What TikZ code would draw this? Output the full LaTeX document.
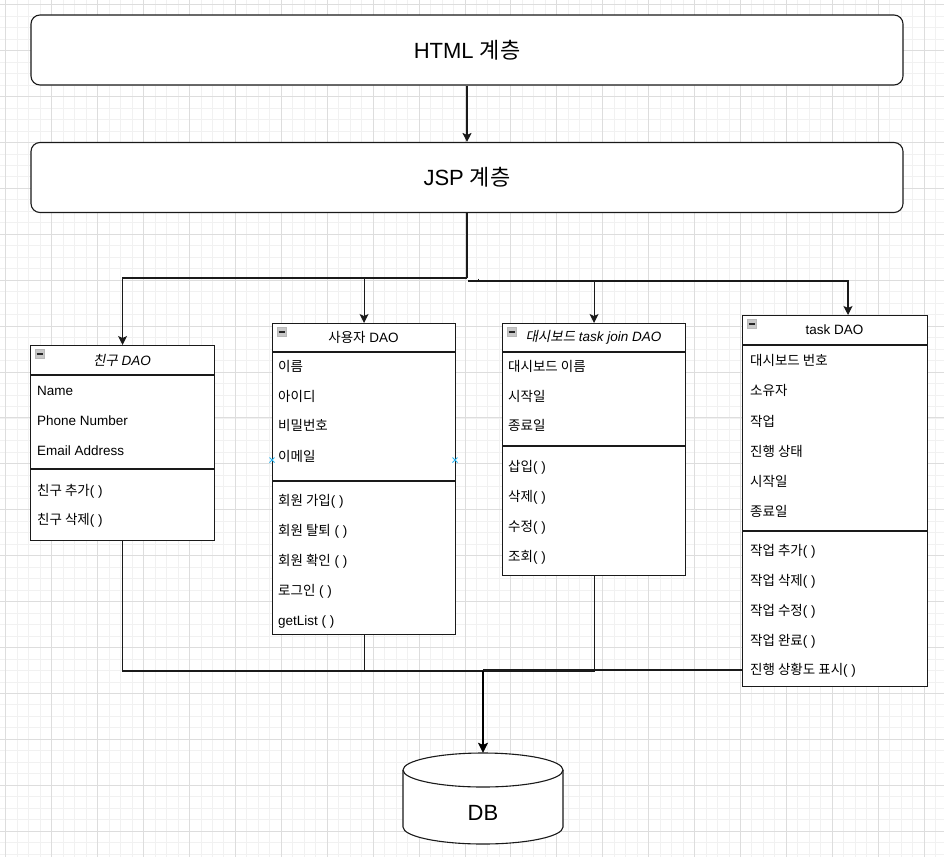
\documentclass[tikz,border=0pt]{standalone}
\usepackage{fontspec}
\setmainfont{Liberation Sans}
\newfontfamily\kr{Noto Sans CJK KR}
\newfontfamily\kri{Noto Sans CJK KR}[FakeSlant=0.2]
\newcommand\K[1]{{\kr #1}}
\newcommand\KI[1]{{\kri #1}}
\usetikzlibrary{arrows.meta}
\definecolor{gridminor}{HTML}{F1F1F1}
\definecolor{gridmajor}{HTML}{DDDDDD}
\definecolor{linecol}{HTML}{1A1A1A}
\definecolor{ptblue}{HTML}{29B6F2}
\definecolor{iconfill}{HTML}{C8C8C8}
\tikzset{
  classbox/.style={draw=linecol, line width=1.1pt, fill=white, anchor=north west, inner sep=0pt},
  layerbox/.style={draw=linecol, line width=1.1pt, fill=white, rounded corners=9pt,
    minimum width=872pt, minimum height=70pt, inner sep=0pt, font=\fontsize{22}{26}\selectfont},
  rowtext/.style={anchor=base west, inner sep=0pt, font=\fontsize{13.5}{16}\selectfont},
  titletext/.style={inner sep=0pt, font=\fontsize{13.5}{16}\selectfont},
  conn/.style={draw=linecol, line width=1.1pt},
  arr/.style={conn, -{Stealth[length=9pt,width=9pt,inset=2pt]}},
  bigarr/.style={draw=black, line width=1.8pt, -{Stealth[length=10pt,width=10pt,inset=2pt]}},
  sepline/.style={draw=linecol, line width=1.1pt},
  iconbox/.style={fill=iconfill, draw=gray!55, line width=0.5pt},
  iconbar/.style={draw=black!85, line width=1.1pt},
  cross/.style={draw=ptblue, line width=1pt}
}
\begin{document}
\begin{tikzpicture}[x=1pt,y=-1pt]
\useasboundingbox (0,0) rectangle (944,857);
\fill[white] (0,0) rectangle (944,857);
% grid
\foreach \i in {0,...,82} {\draw[gridminor, line width=0.8pt] ({5.8+11.478*\i},0) -- ({5.8+11.478*\i},857);}
\foreach \i in {0,...,74} {\draw[gridminor, line width=0.8pt] (0,{4.7+11.478*\i}) -- (944,{4.7+11.478*\i});}
\foreach \i in {0,...,20} {\draw[gridmajor, line width=0.8pt] ({5.8+45.91*\i},0) -- ({5.8+45.91*\i},857);}
\foreach \i in {0,...,18} {\draw[gridmajor, line width=0.8pt] (0,{4.7+45.91*\i}) -- (944,{4.7+45.91*\i});}

% layers
\node[layerbox] (html) at (467,50) {HTML \K{계층}};
\node[layerbox] (jsp) at (467,177.5) {JSP \K{계층}};

% class boxes
\node[classbox, minimum width=184pt, minimum height=195pt] (friend) at (30,345) {};
\node[classbox, minimum width=183pt, minimum height=311pt] (user) at (272,323) {};
\node[classbox, minimum width=183pt, minimum height=252pt] (dash) at (502,323) {};
\node[classbox, minimum width=185pt, minimum height=371pt] (task) at (742,315) {};

% header + separator lines
\draw[sepline] (30,375) -- (214,375);
\draw[sepline] (30,469) -- (214,469);
\draw[sepline] (272,352) -- (455,352);
\draw[sepline] (272,481) -- (455,481);
\draw[sepline] (502,352) -- (685,352);
\draw[sepline] (502,446) -- (685,446);
\draw[sepline] (742,345) -- (927,345);
\draw[sepline] (742,531) -- (927,531);

% collapse icons
\foreach \x/\y in {30/345, 272/323, 502/323, 742/315} {
  \draw[iconbox] (\x+5,\y+4.5) rectangle +(9,9);
  \draw[iconbar] (\x+6.5,\y+9) -- +(6,0);
}

% titles
\node[titletext] (ftitle) at (122,360) {\KI{친구} {\itshape DAO}};
\node[titletext] (utitle) at (363.5,337.5) {\K{사용자} DAO};
\node[titletext] (dtitle) at (593.5,337.5) {\KI{대시보드} {\itshape task join DAO}};
\node[titletext] (ttitle) at (834.5,330) {task DAO};

% rows
\foreach \y/\t [count=\i] in {390/Name, 420/Phone Number, 450/Email Address,
  490/{\K{친구 추가}( )}, 519/{\K{친구 삭제}( )}}
  {\node[rowtext] (f\i) at (37,\y+5) {\t};}
\foreach \y/\t [count=\i] in {366/{\K{이름}}, 396/{\K{아이디}}, 425/{\K{비밀번호}}, 456/{\K{이메일}},
  500/{\K{회원 가입}( )}, 530/{\K{회원 탈퇴} ( )}, 560/{\K{회원 확인} ( )}, 590/{\K{로그인} ( )}, 620/{getList ( )}}
  {\node[rowtext] (u\i) at (278,\y+5) {\t};}
\foreach \y/\t [count=\i] in {366/{\K{대시보드 이름}}, 396/{\K{시작일}}, 425/{\K{종료일}},
  466/{\K{삽입}( )}, 496/{\K{삭제}( )}, 526/{\K{수정}( )}, 556/{\K{조회}( )}}
  {\node[rowtext] (d\i) at (508,\y+5) {\t};}
\foreach \y/\t [count=\i] in {360/{\K{대시보드 번호}}, 390/{\K{소유자}}, 421/{\K{작업}}, 451/{\K{진행 상태}},
  481/{\K{시작일}}, 511/{\K{종료일}}, 550/{\K{작업 추가}( )}, 580/{\K{작업 삭제}( )},
  610/{\K{작업 수정}( )}, 640/{\K{작업 완료}( )}, 669/{\K{진행 상황도 표시}( )}}
  {\node[rowtext] (t\i) at (750,\y+5) {\t};}

% connection point markers
\foreach \x in {272,455} {
  \draw[cross] (\x-2.5,457.5) -- (\x+2.5,462.5);
  \draw[cross] (\x-2.5,462.5) -- (\x+2.5,457.5);
}

% DB cylinder
\node[minimum width=160pt, minimum height=91pt, inner sep=0pt] (db) at (483,798.5) {};
\draw[linecol, line width=1.1pt, fill=white] (403,770) -- (403,827)
  arc[start angle=180, end angle=360, x radius=80pt, y radius=17pt] -- (563,770)
  arc[start angle=0, end angle=180, x radius=80pt, y radius=17pt] -- cycle;
\draw[linecol, line width=1.1pt] (403,770) arc[start angle=180, end angle=360, x radius=80pt, y radius=17pt];
\node[font=\fontsize{22}{26}\selectfont, inner sep=0pt] (dblabel) at (483,813) {DB};

% top connectors
\draw[arr] (html.south) -- (jsp.north);
\coordinate (bl) at (467,278);
\coordinate (br) at (468,281);
\coordinate (tin) at (848,315);
\draw[conn] (jsp.south) -- (bl);
\draw[arr] (bl) -| (friend.north);
\draw[arr] (bl -| user.north) -- (user.north);
\draw[arr] (br) -| (tin);
\draw[arr] (br -| dash.north) -- (dash.north);
\draw[conn, line width=0.8pt] (478,278.5) -- (478,281);

% bottom connectors
\coordinate (jn) at (483,671);
\coordinate (tout) at (742,670);
\draw[conn] (friend.south) |- (jn);
\draw[conn] (user.south) -- (user.south |- jn);
\draw[conn] (dash.south) |- (jn);
\draw[conn] (tout) -- (tout -| jn);
\draw[bigarr] (jn) -- (db.north);
\end{tikzpicture}
\end{document}
